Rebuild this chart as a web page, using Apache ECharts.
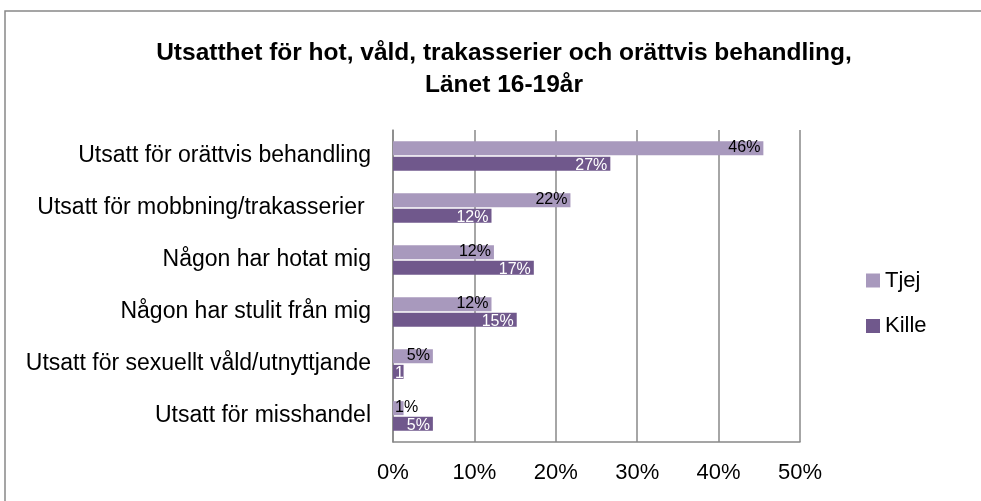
<!DOCTYPE html>
<html>
<head>
<meta charset="utf-8">
<script src="https://cdn.jsdelivr.net/npm/echarts@6/dist/echarts.min.js"></script>
<style>
  html, body { margin: 0; padding: 0; background: #fff; }
  #chart { width: 981px; height: 501px; }
</style>
</head>
<body>
<div id="chart"></div>
<script>
// data
var categories = [
  'Utsatt för orättvis behandling',
  'Utsatt för mobbning/trakasserier ',
  'Någon har hotat mig',
  'Någon har stulit från mig',
  'Utsatt för sexuellt våld/utnyttjande',
  'Utsatt för misshandel'
];
var tjejValues = [45.5, 21.8, 12.4, 12.1, 4.9, 1.3];
var killeValues = [26.7, 12.1, 17.3, 15.2, 1.3, 4.9];
var tjejLabels = ['46%', '22%', '12%', '12%', '5%', '1%'];
var killeLabels = ['27%', '12%', '17%', '15%', '1', '5%'];
var tickValues = [0, 10, 20, 30, 40, 50];

var font = '"Liberation Sans", Arial, sans-serif';
var chart = echarts.init(document.getElementById('chart'));

// tiny bars get their label from the bar start, like Excel does
function barData(values, dy) {
  return values.map(function (v) {
    if (v < 3) {
      return { value: v, label: { position: 'insideLeft', offset: [-3, dy] } };
    }
    return v;
  });
}

var option = {
  animation: false,
  textStyle: { fontFamily: font },
  title: {
    text: 'Utsatthet för hot, våld, trakasserier och orättvis behandling,\nLänet 16-19år',
    left: 499,
    textAlign: 'center',
    top: 32,
    textStyle: { fontSize: 24.5, fontWeight: 'bold', color: '#000', lineHeight: 32, fontFamily: font }
  },
  graphic: [{
    type: 'rect',
    shape: { x: 5, y: 11, width: 1000, height: 600 },
    style: { fill: 'none', stroke: '#888', lineWidth: 1.5 },
    silent: true
  }],
  legend: {
    orient: 'vertical',
    left: 861,
    top: 263.5,
    itemWidth: 14,
    itemHeight: 14,
    itemGap: 21.5,
    icon: 'rect',
    textStyle: { fontSize: 22, color: '#000', fontFamily: font, lineHeight: 24 },
    data: ['Tjej', 'Kille']
  },
  grid: { left: 393, right: 181, top: 130, bottom: 59 },
  xAxis: {
    type: 'value',
    min: 0,
    max: 50,
    interval: 10,
    axisLine: { show: true, lineStyle: { color: '#888', width: 1.5 } },
    axisTick: { show: false },
    axisLabel: {
      margin: 20,
      fontSize: 22,
      color: '#000',
      formatter: function (v) { return tickValues.indexOf(v) >= 0 ? v + '%' : ''; }
    },
    splitLine: { show: true, lineStyle: { color: '#888', width: 1.5 } }
  },
  yAxis: {
    type: 'category',
    inverse: true,
    data: categories,
    axisLine: { show: true, lineStyle: { color: '#888', width: 1.5 } },
    axisTick: { show: false },
    axisLabel: { margin: 22, fontSize: 23, color: '#000' }
  },
  series: [
    {
      name: 'Tjej',
      type: 'bar',
      data: barData(tjejValues, -1),
      barWidth: 14,
      barGap: '12%',
      itemStyle: { color: '#a899bd' },
      label: {
        show: true,
        position: 'insideRight',
        offset: [2, -1],
        fontSize: 16,
        color: '#000',
        formatter: function (p) { return tjejLabels[p.dataIndex]; }
      }
    },
    {
      name: 'Kille',
      type: 'bar',
      data: barData(killeValues, 2),
      barWidth: 14,
      itemStyle: { color: '#70588c' },
      label: {
        show: true,
        position: 'insideRight',
        offset: [2, 2],
        fontSize: 16,
        color: '#fff',
        formatter: function (p) { return killeLabels[p.dataIndex]; }
      }
    }
  ]
};

chart.setOption(option);
</script>
</body>
</html>
